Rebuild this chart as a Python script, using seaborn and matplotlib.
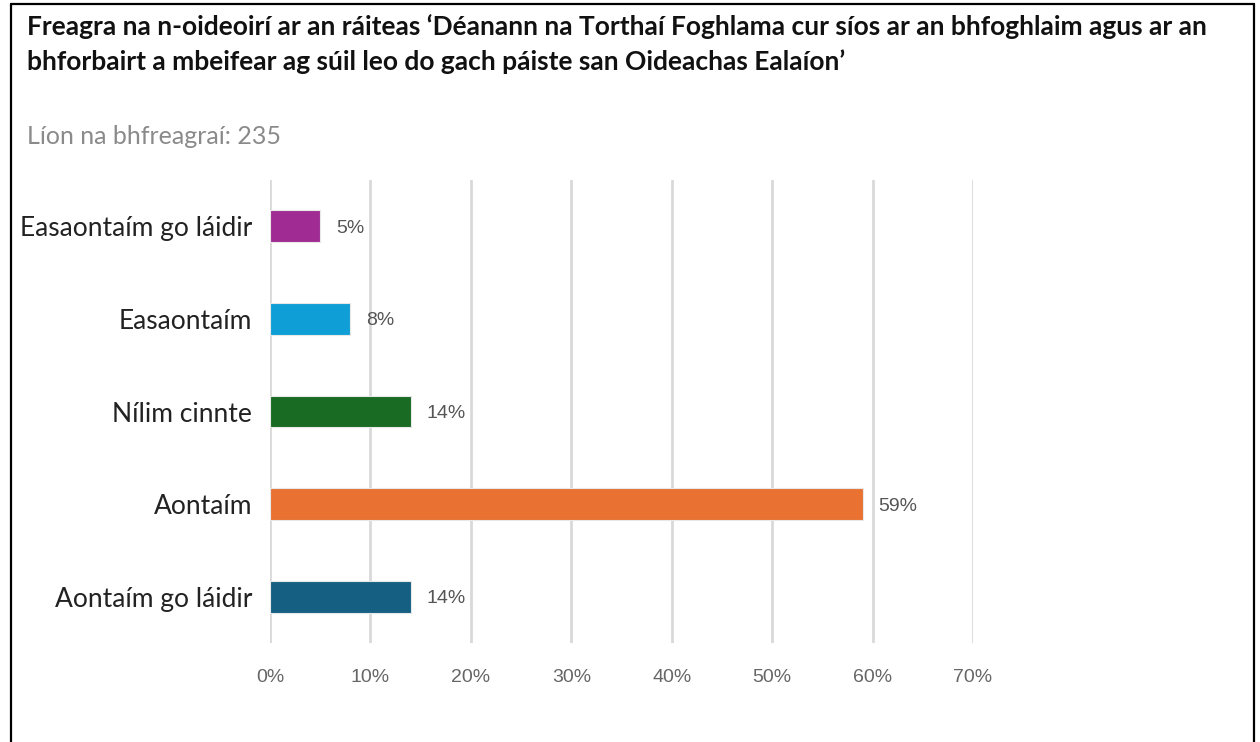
import matplotlib
matplotlib.use("Agg")
import matplotlib.pyplot as plt
from matplotlib.lines import Line2D
import pandas as pd
import seaborn as sns

# ------------------------------------------------------
# Data
# ------------------------------------------------------
categories = ["Easaontaím go láidir", "Easaontaím", "Nílim cinnte",
              "Aontaím", "Aontaím go láidir"]
percentages = [5, 8, 14, 59, 14]
bar_colors = ["#A02B93", "#0F9ED5", "#196B24", "#E97132", "#156082"]
x_ticks = [0, 10, 20, 30, 40, 50, 60, 70]

title_lines = ["Freagra na n-oideoirí ar an ráiteas ‘Déanann na Torthaí Foghlama cur síos ar an bhfoghlaim agus ar an",
               "bhforbairt a mbeifear ag súil leo do gach páiste san Oideachas Ealaíon’"]
subtitle = "Líon na bhfreagraí: 235"

df = pd.DataFrame({"Freagra": categories, "Céatadán": percentages})

# ------------------------------------------------------
# Plot
# ------------------------------------------------------
sns.set_style("white")
plt.rcParams['font.family'] = ['Lato', 'DejaVu Sans']
narrow = ['Liberation Sans Narrow', 'Liberation Sans']

fig = plt.figure(figsize=(12.6, 7.42), dpi=100)
ax = fig.add_axes([270 / 1260, 1 - 643 / 742, (973 - 270) / 1260, (643 - 180) / 742])

sns.barplot(data=df, y="Freagra", x="Céatadán", hue="Freagra",
            palette=bar_colors, order=categories, hue_order=categories,
            saturation=1, width=0.345, edgecolor="#e8e8e8", linewidth=0.8,
            legend=False, ax=ax, zorder=3)

ax.set_xlim(0, 70)
ax.set_ylim(4.5, -0.5)
ax.set_xticks(x_ticks)
ax.set_xticklabels([f"{t}%" for t in x_ticks], color="#666666", fontsize=14,
                   family=narrow)
ax.tick_params(axis='x', length=0, pad=19)
ax.tick_params(axis='y', length=0, pad=13, labelsize=19, labelcolor="#222222")
ax.grid(axis='x', color="#d9d9d9", linewidth=2, zorder=0)
ax.grid(axis='y', visible=False)
for s in ax.spines.values():
    s.set_visible(False)
ax.set_xlabel("")
ax.set_ylabel("")

# value labels
for i, v in enumerate(percentages):
    ax.annotate(f"{v}%", xy=(v, i), xytext=(16, -2), textcoords="offset pixels",
                ha="left", va="center", fontsize=14, color="#555555",
                family=narrow)

# title and subtitle
for y_px, line in zip([27, 62], title_lines):
    fig.text(27 / 1260, 1 - y_px / 742, line, ha="left", va="center",
             fontsize=19, fontweight="bold", color="#111111")
fig.text(27 / 1260, 1 - 137 / 742, subtitle, ha="left", va="center",
         fontsize=18, color="#8a8a8a")

# frame around the chart (bottom edge is cut off)
frame_kw = dict(color="black", linewidth=1.6, transform=fig.transFigure)
fig.add_artist(Line2D([11 / 1260, 11 / 1260], [0, 1 - 4 / 742], **frame_kw))
fig.add_artist(Line2D([11 / 1260, 1254 / 1260], [1 - 4 / 742, 1 - 4 / 742], **frame_kw))
fig.add_artist(Line2D([1254 / 1260, 1254 / 1260], [0, 1 - 4 / 742], **frame_kw))

fig.savefig("out.png", dpi=100)
